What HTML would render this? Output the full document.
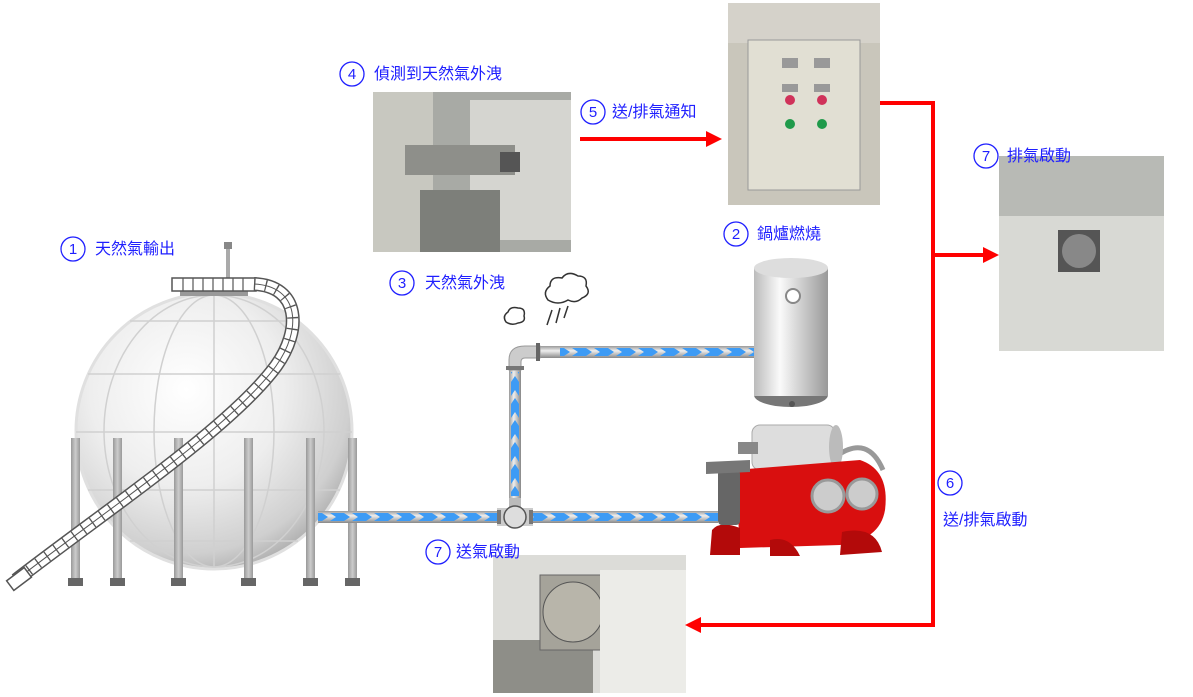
<!DOCTYPE html>
<html><head><meta charset="utf-8"><style>
body{margin:0;background:#fff;}
svg{display:block;font-family:"Liberation Sans","Noto Sans CJK TC",sans-serif;}
</style></head><body>
<svg width="1193" height="697" viewBox="0 0 1193 697" xmlns="http://www.w3.org/2000/svg">
<defs>
<radialGradient id="sph" cx="0.4" cy="0.35" r="0.7">
<stop offset="0" stop-color="#fff"/><stop offset="0.5" stop-color="#eee"/><stop offset="0.85" stop-color="#cfcfcf"/><stop offset="1" stop-color="#aaa"/></radialGradient>
<linearGradient id="pipeH" x1="0" y1="0" x2="0" y2="1"><stop offset="0" stop-color="#999"/><stop offset="0.4" stop-color="#eee"/><stop offset="1" stop-color="#888"/></linearGradient>
<linearGradient id="pipeV" x1="0" y1="0" x2="1" y2="0"><stop offset="0" stop-color="#999"/><stop offset="0.4" stop-color="#eee"/><stop offset="1" stop-color="#888"/></linearGradient>
<pattern id="chevH" width="22" height="10" patternUnits="userSpaceOnUse" y="512">
<polygon points="0,1 14,1 20,5 14,9 0,9 6,5" fill="#3d9bf5"/></pattern>
<pattern id="chevH2" width="22" height="10" patternUnits="userSpaceOnUse" y="347">
<polygon points="0,1 14,1 20,5 14,9 0,9 6,5" fill="#3d9bf5"/></pattern>
<pattern id="chevV" width="10" height="22" patternUnits="userSpaceOnUse" x="510">
<polygon points="1,22 1,8 5,2 9,8 9,22 5,16" fill="#3d9bf5"/></pattern>
<linearGradient id="cyl" x1="0" y1="0" x2="1" y2="0"><stop offset="0" stop-color="#bbb"/><stop offset="0.35" stop-color="#fafafa"/><stop offset="1" stop-color="#999"/></linearGradient>
<linearGradient id="leg" x1="0" y1="0" x2="1" y2="0"><stop offset="0" stop-color="#999"/><stop offset="0.5" stop-color="#ccc"/><stop offset="1" stop-color="#999"/></linearGradient>
</defs>

<!-- sphere -->
<circle cx="214" cy="431" r="138" fill="url(#sph)" stroke="#e0e0e0" stroke-width="3"/>
<g stroke="#d0d0d0" stroke-width="1.5" fill="none">
<ellipse cx="214" cy="431" rx="60" ry="136"/><ellipse cx="214" cy="431" rx="110" ry="136"/>
<line x1="214" y1="295" x2="214" y2="567"/>
<line x1="130" y1="321" x2="298" y2="321"/><line x1="88" y1="374" x2="340" y2="374"/>
<line x1="76" y1="432" x2="352" y2="432"/><line x1="88" y1="490" x2="340" y2="490"/><line x1="130" y1="541" x2="298" y2="541"/>
</g>
<rect x="226" y="243" width="4" height="38" fill="#aaa"/><rect x="224" y="242" width="8" height="7" fill="#888"/>
<rect x="180" y="288" width="68" height="8" fill="#999"/>
<g fill="url(#leg)">
<rect x="71" y="438" width="9" height="142"/><rect x="113" y="438" width="9" height="142"/><rect x="174" y="438" width="9" height="142"/>
<rect x="244" y="438" width="9" height="142"/><rect x="306" y="438" width="9" height="142"/><rect x="348" y="438" width="9" height="142"/></g>
<g fill="#666"><rect x="68" y="578" width="15" height="8"/><rect x="110" y="578" width="15" height="8"/><rect x="171" y="578" width="15" height="8"/><rect x="241" y="578" width="15" height="8"/><rect x="303" y="578" width="15" height="8"/><rect x="345" y="578" width="15" height="8"/></g>
<!-- ladder -->
<rect x="172" y="278" width="84" height="13" fill="#fff" stroke="#555" stroke-width="1.5"/>
<g stroke="#555" stroke-width="1.2">
<line x1="183" y1="278" x2="183" y2="291"/><line x1="193" y1="278" x2="193" y2="291"/><line x1="203" y1="278" x2="203" y2="291"/><line x1="213" y1="278" x2="213" y2="291"/><line x1="223" y1="278" x2="223" y2="291"/><line x1="233" y1="278" x2="233" y2="291"/><line x1="243" y1="278" x2="243" y2="291"/>
</g>
<path id="lad" d="M254,284 C300,286 302,330 276,366 C232,426 112,506 16,580" fill="none" stroke="#555" stroke-width="14"/>
<path d="M254,284 C300,286 302,330 276,366 C232,426 112,506 16,580" fill="none" stroke="#fff" stroke-width="11"/>
<path d="M254,284 C300,286 302,330 276,366 C232,426 112,506 16,580" fill="none" stroke="#555" stroke-width="11" stroke-dasharray="1.3 10"/>
<path d="M254,284 C300,286 302,330 276,366 C232,426 112,506 16,580" fill="none" stroke="#555" stroke-width="1"/>
<rect x="8" y="573" width="22" height="12" fill="#fff" stroke="#555" stroke-width="1.5" transform="rotate(-37 19 579)"/>

<!-- pipes -->
<rect x="318" y="511" width="400" height="12" fill="url(#pipeH)"/>
<rect x="318" y="512" width="400" height="10" fill="url(#chevH)"/>
<rect x="540" y="346" width="216" height="12" fill="url(#pipeH)"/>
<rect x="560" y="347" width="196" height="10" fill="url(#chevH2)"/>
<rect x="509" y="365" width="12" height="135" fill="url(#pipeV)"/>
<rect x="510" y="372" width="10" height="124" fill="url(#chevV)"/>
<path d="M509,370 L509,360 Q509,346 525,346 L540,346 L540,358 L525,358 Q521,358 521,362 L521,370 Z" fill="#ccc" stroke="#999"/>
<rect x="536" y="343" width="4" height="18" fill="#666"/><rect x="506" y="366" width="18" height="4" fill="#777"/>
<rect x="509" y="498" width="12" height="12" fill="#bbb"/>
<rect x="497" y="508" width="36" height="18" fill="#ccc"/>
<circle cx="515" cy="517" r="11" fill="#ddd" stroke="#555" stroke-width="1.5"/>
<rect x="497" y="510" width="4" height="14" fill="#777"/><rect x="529" y="510" width="4" height="14" fill="#777"/>

<!-- smoke -->
<g fill="#fff" stroke="#333" stroke-width="1.5">
<path d="M548,300 q-6,-8 2,-14 q0,-10 12,-8 q6,-8 16,-2 q10,0 8,10 q6,8 -4,12 q-6,6 -14,2 q-10,6 -20,0z"/>
<path d="M506,322 q-4,-6 2,-10 q2,-6 10,-4 q8,0 6,8 q2,6 -6,7 q-6,3 -12,-1z"/>
</g>
<g stroke="#333" stroke-width="1.5"><line x1="552" y1="310" x2="547" y2="325"/><line x1="560" y1="308" x2="556" y2="323"/><line x1="568" y1="306" x2="564" y2="318"/></g>

<!-- water heater -->
<ellipse cx="791" cy="395" rx="37" ry="12" fill="#777"/>
<rect x="754" y="268" width="74" height="128" fill="url(#cyl)"/>
<ellipse cx="791" cy="268" rx="37" ry="10" fill="#ddd"/>
<circle cx="793" cy="296" r="7" fill="#fff" stroke="#888" stroke-width="2"/>
<circle cx="792" cy="404" r="3" fill="#555"/>

<!-- pump -->
<path d="M838,455 q30,-20 45,15" stroke="#999" stroke-width="5" fill="none"/>
<rect x="752" y="425" width="83" height="45" rx="8" fill="#ddd" stroke="#aaa"/>
<ellipse cx="836" cy="447" rx="7" ry="22" fill="#bbb"/>
<rect x="738" y="442" width="20" height="12" fill="#888"/>
<path d="M735,470 L860,460 Q890,470 885,510 Q880,540 840,545 L740,548 Z" fill="#d90f0f"/>
<path d="M712,530 Q720,520 740,528 L740,555 L710,555 Z M842,532 Q875,525 882,552 L840,555 Z M770,540 Q790,535 800,556 L770,556 Z" fill="#b30a0a"/>
<circle cx="828" cy="496" r="16" fill="#ccc" stroke="#999" stroke-width="3"/>
<circle cx="862" cy="494" r="15" fill="#ccc" stroke="#999" stroke-width="3"/>
<rect x="718" y="470" width="22" height="55" rx="4" fill="#666"/>
<path d="M706,462 L750,460 L750,472 L706,474 Z" fill="#777"/>

<!-- photos -->
<rect x="373" y="92" width="198" height="160" fill="#a8aaa5"/>
<rect x="373" y="92" width="60" height="160" fill="#c8c8c0"/>
<rect x="470" y="100" width="101" height="140" fill="#d5d5d0"/>
<rect x="405" y="145" width="110" height="30" fill="#8e8f8a"/>
<rect x="500" y="152" width="20" height="20" fill="#555"/>
<rect x="420" y="190" width="80" height="62" fill="#7d7f7a"/>

<rect x="728" y="3" width="152" height="202" fill="#c9c6bb"/>
<rect x="728" y="3" width="152" height="40" fill="#d5d2ca"/>
<rect x="748" y="40" width="112" height="150" fill="#e1dfd3" stroke="#999"/>
<g fill="#1f9a4a"><circle cx="790" cy="124" r="5"/><circle cx="822" cy="124" r="5"/></g>
<g fill="#d0325a"><circle cx="790" cy="100" r="5"/><circle cx="822" cy="100" r="5"/></g>
<g fill="#999"><rect x="782" y="58" width="16" height="10"/><rect x="814" y="58" width="16" height="10"/><rect x="782" y="84" width="16" height="8"/><rect x="814" y="84" width="16" height="8"/></g>

<rect x="999" y="156" width="165" height="195" fill="#d8d9d4"/>
<rect x="999" y="156" width="165" height="60" fill="#b8bab5"/>
<rect x="1058" y="230" width="42" height="42" fill="#555"/>
<circle cx="1079" cy="251" r="17" fill="#888"/>

<rect x="493" y="555" width="193" height="138" fill="#dcdcd8"/>
<rect x="493" y="640" width="100" height="53" fill="#8e8e88"/>
<rect x="540" y="575" width="65" height="75" fill="#a5a39a" stroke="#666"/>
<circle cx="573" cy="612" r="30" fill="#b8b5aa" stroke="#555"/>
<rect x="600" y="570" width="86" height="123" fill="#ecece8"/>

<!-- red lines -->
<g stroke="#ff0000" stroke-width="4" fill="none">
<line x1="580" y1="139" x2="708" y2="139"/>
<polyline points="880,103 933,103 933,625 700,625"/>
<line x1="933" y1="255" x2="985" y2="255"/>
</g>
<g fill="#ff0000">
<polygon points="722,139 706,131 706,147"/>
<polygon points="685,625 701,617 701,633"/>
<polygon points="999,255 983,247 983,263"/>
</g>

<!-- labels -->
<g fill="none" stroke="#1f1fff" stroke-width="1.3">
<circle cx="73" cy="249" r="12"/><circle cx="352" cy="74" r="12"/><circle cx="593" cy="112" r="12"/>
<circle cx="736" cy="234" r="12"/><circle cx="402" cy="283" r="12"/><circle cx="986" cy="156" r="12"/>
<circle cx="950" cy="483" r="12"/><circle cx="438" cy="552" r="12"/></g>
<g fill="#1f1fff" font-size="15" text-anchor="middle">
<text x="73" y="254">1</text><text x="352" y="79">4</text><text x="593" y="117">5</text><text x="736" y="239">2</text>
<text x="402" y="288">3</text><text x="986" y="161">7</text><text x="950" y="488">6</text><text x="438" y="557">7</text></g>
<g fill="#1f1fff" font-size="16">
<text x="95" y="254">天然氣輸出</text><text x="374" y="79">偵測到天然氣外洩</text><text x="612" y="117">送/排氣通知</text>
<text x="757" y="239">鍋爐燃燒</text><text x="425" y="288">天然氣外洩</text><text x="1007" y="161">排氣啟動</text>
<text x="943" y="525">送/排氣啟動</text><text x="456" y="557">送氣啟動</text></g>
</svg>
</body></html>
